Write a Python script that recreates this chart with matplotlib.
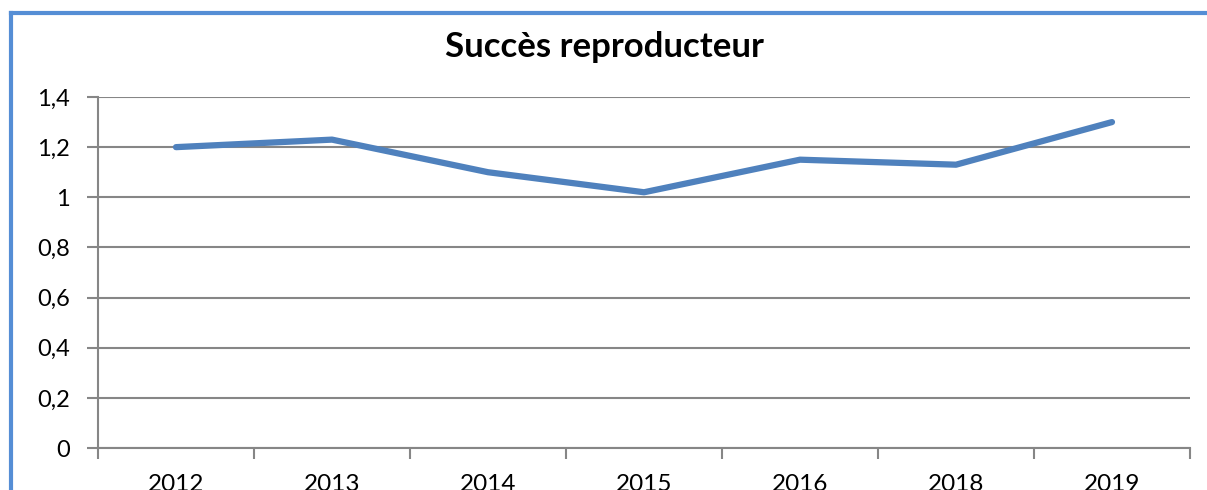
import numpy as np
import matplotlib.pyplot as plt
from matplotlib.lines import Line2D

# Data
years = ["2012", "2013", "2014", "2015", "2016", "2018", "2019"]
succes = [1.20, 1.23, 1.10, 1.02, 1.15, 1.13, 1.30]

plt.rcParams['font.family'] = ['Lato', 'DejaVu Sans']

fig = plt.figure(figsize=(12.07, 4.9), dpi=100)
ax = fig.add_axes([98/1207, 1-448/490, (1190-98)/1207, (448-97)/490])

x = np.arange(len(years))
ax.plot(x, succes, color="#4F81BD", lw=4.5, solid_capstyle="round", solid_joinstyle="round", zorder=3)

ax.set_xlim(-0.5, len(years)-0.5)
ax.set_ylim(0, 1.4)
yt = np.arange(0, 1.41, 0.2)
ax.set_yticks(yt)
ax.set_yticklabels(["0" if v == 0 else ("1" if abs(v-1) < 1e-9 else f"{v:.1f}".replace(".", ",")) for v in yt])
ax.grid(axis="y", color="#868686", lw=1.5)
ax.set_axisbelow(True)

# category ticks between labels
ax.set_xticks(np.arange(-0.5, len(years), 1))
ax.set_xticklabels([])
ax.set_xticks(x, minor=True)
ax.set_xticklabels(years, minor=True)
ax.tick_params(axis="x", which="major", length=8, width=1.5, color="#868686", direction="out")
ax.tick_params(axis="x", which="minor", length=0, pad=19, labelsize=17.5)
ax.tick_params(axis="y", length=8, width=1.5, color="#868686", pad=12, labelsize=17)

for s in ["top", "right"]:
    ax.spines[s].set_visible(False)
for s in ["left", "bottom"]:
    ax.spines[s].set_color("#868686")
    ax.spines[s].set_linewidth(1.5)

fig.text(604/1207, 1-47/490, "Succès reproducteur", ha="center", va="center", fontsize=25, fontweight="bold")

# blue frame (left and top)
fig.add_artist(Line2D([11/1207, 11/1207], [0, 1-13/490], color="#558ED5", lw=3, transform=fig.transFigure))
fig.add_artist(Line2D([11/1207, 1], [1-13/490, 1-13/490], color="#558ED5", lw=3, transform=fig.transFigure))

plt.savefig("out.png", dpi=100)
